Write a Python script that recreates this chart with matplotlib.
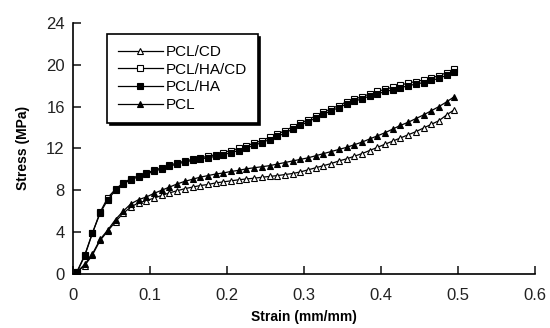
import numpy as np
import matplotlib
matplotlib.use('Agg')
import matplotlib.pyplot as plt

plt.rcParams['font.family'] = ['Liberation Sans', 'DejaVu Sans']

strain = [0.005, 0.015, 0.025, 0.035, 0.045, 0.055, 0.065, 0.075, 0.085, 0.095,
          0.105, 0.115, 0.125, 0.135, 0.145, 0.155, 0.165, 0.175, 0.185, 0.195,
          0.205, 0.215, 0.225, 0.235, 0.245, 0.255, 0.265, 0.275, 0.285, 0.295,
          0.305, 0.315, 0.325, 0.335, 0.345, 0.355, 0.365, 0.375, 0.385, 0.395,
          0.405, 0.415, 0.425, 0.435, 0.445, 0.455, 0.465, 0.475, 0.485, 0.495]

pcl_cd = [0.2, 0.8, 1.8, 3.2, 4.1, 5.0, 5.8, 6.4, 6.8, 7.0,
          7.25, 7.5, 7.75, 7.95, 8.15, 8.3, 8.45, 8.55, 8.7, 8.8,
          8.9, 9.0, 9.08, 9.15, 9.24, 9.32, 9.4, 9.5, 9.6, 9.75,
          9.95, 10.15, 10.35, 10.55, 10.8, 11.0, 11.25, 11.5, 11.8, 12.1,
          12.4, 12.7, 13.0, 13.3, 13.6, 13.95, 14.3, 14.65, 15.2, 15.7]

pcl_ha_cd = [0.2, 1.8, 3.9, 5.9, 7.3, 8.1, 8.7, 9.1, 9.4, 9.65,
             9.9, 10.15, 10.4, 10.6, 10.8, 10.95, 11.1, 11.25, 11.4, 11.6,
             11.8, 12.0, 12.25, 12.5, 12.75, 13.05, 13.35, 13.7, 14.05, 14.4,
             14.75, 15.1, 15.45, 15.8, 16.1, 16.45, 16.7, 16.95, 17.2, 17.45,
             17.65, 17.85, 18.05, 18.25, 18.4, 18.55, 18.75, 18.95, 19.25, 19.6]

pcl_ha = [0.2, 1.7, 3.9, 5.8, 7.1, 8.0, 8.6, 9.0, 9.3, 9.55,
          9.8, 10.05, 10.3, 10.5, 10.7, 10.85, 11.0, 11.1, 11.25, 11.4,
          11.6, 11.8, 12.05, 12.3, 12.55, 12.85, 13.15, 13.45, 13.85, 14.2,
          14.55, 14.9, 15.25, 15.6, 15.9, 16.25, 16.5, 16.75, 17.0, 17.2,
          17.45, 17.6, 17.8, 18.0, 18.15, 18.3, 18.5, 18.7, 19.0, 19.3]

pcl = [0.2, 0.9, 1.9, 3.3, 4.2, 5.2, 6.0, 6.7, 7.1, 7.35,
       7.7, 8.0, 8.3, 8.6, 8.85, 9.05, 9.25, 9.4, 9.55, 9.65,
       9.8, 9.9, 10.05, 10.15, 10.25, 10.35, 10.5, 10.65, 10.8, 10.95,
       11.1, 11.3, 11.5, 11.7, 11.9, 12.1, 12.35, 12.6, 12.9, 13.2,
       13.5, 13.85, 14.2, 14.5, 14.85, 15.2, 15.6, 16.0, 16.45, 16.95]

fig = plt.figure(figsize=(5.5, 3.28), dpi=100)
ax = fig.add_axes([0.133, 0.165, 0.84, 0.765])

ax.plot(strain, pcl_cd, '-', color='black', lw=0.9, marker='^', ms=4.8,
        mfc='white', mec='black', mew=0.8, label='PCL/CD')
ax.plot(strain, pcl_ha_cd, '-', color='black', lw=0.9, marker='s', ms=5,
        mfc='white', mec='black', mew=0.8, label='PCL/HA/CD')
ax.plot(strain, pcl_ha, '-', color='black', lw=0.9, marker='s', ms=5,
        mfc='black', mec='black', mew=0.8, label='PCL/HA')
ax.plot(strain, pcl, '-', color='black', lw=0.9, marker='^', ms=4.8,
        mfc='black', mec='black', mew=0.8, label='PCL')

ax.set_xlim(0, 0.6)
ax.set_ylim(0, 24)
ax.set_xticks([0, 0.1, 0.2, 0.3, 0.4, 0.5, 0.6])
ax.set_xticklabels(['0', '0.1', '0.2', '0.3', '0.4', '0.5', '0.6'])
ax.set_yticks([0, 4, 8, 12, 16, 20, 24])

for s in ['top', 'right']:
    ax.spines[s].set_visible(False)
for s in ['left', 'bottom']:
    ax.spines[s].set_linewidth(1.2)
ax.tick_params(direction='in', length=6, width=1.2, labelsize=12, colors='#222222')
ax.tick_params(axis='x', pad=10)
ax.tick_params(axis='y', pad=6)

ax.set_xlabel('Strain (mm/mm)', fontsize=10, fontweight='bold', labelpad=5)
ax.set_ylabel('Stress (MPa)', fontsize=10, fontweight='bold', labelpad=12)

leg = ax.legend(loc='upper left', bbox_to_anchor=(0.073, 0.955), frameon=True,
                fancybox=False, shadow={'color': 'black', 'alpha': 1},
                fontsize=11, handlelength=3.0, handletextpad=0.15,
                labelspacing=0.24, borderpad=0.7, borderaxespad=0)
leg.get_frame().set_edgecolor('black')
leg.get_frame().set_linewidth(1.2)

fig.savefig('out.png', dpi=100)
